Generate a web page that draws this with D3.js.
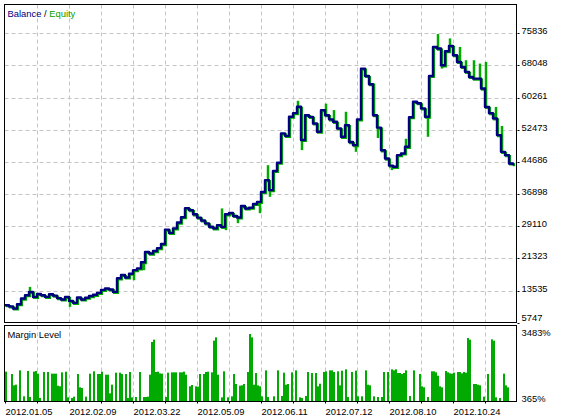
<!DOCTYPE html>
<html>
<head>
<meta charset="utf-8">
<script src="https://cdnjs.cloudflare.com/ajax/libs/d3/7.8.5/d3.min.js"></script>
<style>
body { margin: 0; background: #fff; }
svg text { font-family: "Liberation Sans", Arial, sans-serif; font-size: 9.4px; fill: #000; }
</style>
</head>
<body>
<div class="chart"></div>
<script>

// balance, one value every 2 deal slots
var balance = [
	9990, 9700, 9200, 10230, 11600, 12400, 13200, 12000, 12700, 12400, 12000, 12650, 12300, 11700, 11370, 12000,
	11030, 10550, 11850, 11370, 11800, 12200, 12500, 12970, 13700, 14030, 13800, 13210, 16500, 17300, 16700, 17600,
	18470, 18900, 20400, 22900, 22500, 23100, 23800, 24800, 28300, 27500, 28600, 30000, 31300, 33500, 33000, 32000,
	31200, 30500, 29800, 29000, 28600, 29370, 28960, 32000, 32300, 31600, 31230, 34000, 33400, 33600, 34500, 35000,
	37400, 40270, 37850, 42500, 44500, 51590, 51000, 55620, 56500, 58050, 50000, 56000, 55600, 54000, 52000, 57240,
	56000, 55000, 54400, 52800, 50770, 53600, 49500, 48750, 55000, 67290, 65500, 63500, 56000, 53000, 47500, 45500,
	43800, 43500, 46330, 46740, 48350, 55500, 59250, 58900, 57650, 55620, 65500, 72540, 72140, 68090, 71500, 72800,
	70520, 68900, 67690, 66500, 65270, 64860, 64860, 62450, 58000, 56500, 55220, 51180, 47130, 46330, 44320, 43900
];

// equity excursions away from balance: [deal slot, equity]
var equitySpikes = [
	[12, 14420], [32, 9570], [64, 16040], [69, 18470], [108, 33420], [110, 28160], [116, 29850],
	[127, 32270], [131, 43900], [132, 36230], [142, 53190], [146, 59490], [148, 47540], [160, 58800],
	[164, 57240], [170, 56830], [175, 47130], [184, 63700], [186, 50470], [193, 42700], [200, 50300],
	[211, 50770], [216, 75650], [218, 67290], [222, 74600], [227, 72540], [230, 69310], [234, 69310],
	[237, 68500], [240, 68900], [245, 58000], [248, 53400]
];

// margin level % per deal slot (0 = no open position)
var marginLevel = [
	1690, 0, 0, 1579, 1039, 1071, 0, 1753, 0, 516, 0, 1722, 484, 0, 1690, 1722,
	1595, 436, 0, 1674, 0, 1674, 0, 1595, 1595, 1595, 1023, 992, 1658, 0, 1690, 468,
	0, 436, 500, 0, 1579, 944, 912, 0, 500, 0, 1595, 0, 1706, 0, 1579, 1579,
	1690, 0, 1547, 1547, 659, 1071, 0, 1642, 0, 1642, 1579, 0, 1579, 436, 1674, 468,
	0, 484, 0, 1674, 0, 484, 484, 500, 1547, 3102, 3213, 1674, 1690, 1610, 1595, 0,
	484, 1642, 0, 1658, 1658, 1658, 0, 1658, 1658, 1690, 1547, 0, 992, 1055, 0, 992,
	976, 1579, 0, 1579, 1674, 1690, 0, 1658, 3165, 3324, 1547, 0, 468, 1706, 0, 468,
	0, 516, 1579, 1103, 0, 1023, 1039, 1103, 0, 1674, 3483, 3324, 1071, 1626, 1039, 992,
	516, 0, 1753, 484, 0, 0, 516, 0, 1753, 0, 532, 1642, 1071, 1103, 0, 1658,
	0, 1753, 0, 468, 436, 0, 532, 1674, 0, 1626, 0, 1626, 992, 1118, 0, 1674,
	1706, 0, 1753, 1753, 1674, 0, 1706, 1039, 1737, 0, 1801, 484, 0, 1674, 0, 1737,
	516, 0, 516, 0, 1753, 1071, 1039, 0, 516, 0, 484, 0, 484, 1674, 0, 1674,
	0, 1801, 1753, 1801, 1626, 1626, 1579, 1626, 1753, 0, 532, 0, 1753, 0, 0, 1579,
	992, 944, 0, 484, 0, 1706, 1706, 1658, 1499, 992, 944, 0, 1722, 1658, 1610, 1595,
	1642, 0, 1674, 1674, 1610, 1674, 1642, 3292, 3213, 0, 1103, 1103, 1071, 1039, 0, 500,
	0, 1579, 0, 3229, 3165, 468, 0, 436, 0, 1595, 1039, 944
];

var balanceTicks = [5747, 13535, 21323, 29110, 36898, 44686, 52473, 60261, 68048, 75836];
var marginTicks = [365, 3483];
var dateLabels = ["2012.01.05", "2012.02.09", "2012.03.22", "2012.05.09",
	"2012.06.11", "2012.07.12", "2012.08.10", "2012.10.24"];

var svgWidth = 562, svgHeight = 419;
var left = 4.5, right = 516.5;
var main = { top: 4.5, bottom: 322.5 };
var marg = { top: 325.5, bottom: 401.5 };

var svg = d3.select(".chart").append("svg")
	.attr("width", svgWidth)
	.attr("height", svgHeight);

// deal slots -> pixels, 16 slots per grid cell
var x = d3.scaleLinear().domain([0, 256]).range([5, 517]);
var y = d3.scaleLinear().domain([5747, 75836]).range([322.7, 33.3]);
var yM = d3.scaleLinear().domain([365, 3483]).range([399.5, 334]);

var gridSlots = d3.range(16, 256, 16);

function dashed(g, x1, y1, x2, y2) {
	g.append("line")
		.attr("x1", x1).attr("y1", y1).attr("x2", x2).attr("y2", y2)
		.attr("stroke", "#c4c4c4")
		.attr("stroke-width", 1)
		.attr("stroke-dasharray", "4,3");
}

// grid
var grid = svg.append("g");
gridSlots.forEach(function (s) {
	var gx = Math.round(x(s)) + 0.5;
	dashed(grid, gx, main.top, gx, main.bottom);
	dashed(grid, gx, marg.top, gx, marg.bottom);
});
balanceTicks.slice(1).forEach(function (t) {
	var gy = Math.round(y(t)) + 0.5;
	dashed(grid, left, gy, right, gy);
});

var balLine = d3.line()
	.x(function (d, i) { return x(i * 2); })
	.y(function (d) { return y(d); })
	.curve(d3.curveStepAfter);

// equity: follows balance slightly behind, with spikes
svg.append("path")
	.datum(balance)
	.attr("d", balLine)
	.attr("transform", "translate(1,1)")
	.attr("fill", "none")
	.attr("stroke", "#00aa00")
	.attr("stroke-width", 2.2);

svg.append("g").selectAll("line")
	.data(equitySpikes)
	.enter()
	.append("line")
	.attr("x1", function (d) { return x(d[0]) + 1; })
	.attr("x2", function (d) { return x(d[0]) + 1; })
	.attr("y1", function (d) { return y(balance[Math.floor(d[0] / 2)]); })
	.attr("y2", function (d) { return y(d[1]); })
	.attr("stroke", "#00aa00")
	.attr("stroke-width", 2.5);

// balance
svg.append("path")
	.datum(balance)
	.attr("d", balLine)
	.attr("fill", "none")
	.attr("stroke", "#000080")
	.attr("stroke-width", 2.4)
	.attr("stroke-linejoin", "round");

// margin bars
var bars = svg.append("g");
marginLevel.forEach(function (v, i) {
	if (!v) return;
	bars.append("rect")
		.attr("x", x(i))
		.attr("y", yM(v))
		.attr("width", 2)
		.attr("height", marg.bottom - 0.5 - yM(v))
		.attr("fill", "#00aa00");
});

// frames
[main, marg].forEach(function (p) {
	svg.append("rect")
		.attr("x", left).attr("y", p.top)
		.attr("width", right - left).attr("height", p.bottom - p.top)
		.attr("fill", "none")
		.attr("stroke", "#000")
		.attr("stroke-width", 1);
});

// right axis labels
balanceTicks.forEach(function (t) {
	var gy = Math.round(y(t)) + 0.5;
	svg.append("line")
		.attr("x1", right + 1).attr("x2", right + 3)
		.attr("y1", gy).attr("y2", gy)
		.attr("stroke", "#000");
	svg.append("text")
		.attr("x", 521.5)
		.attr("y", Math.min(gy + 0.7, 321))
		.text(t);
});
marginTicks.forEach(function (t, i) {
	svg.append("text")
		.attr("x", 521.5)
		.attr("y", i === 0 ? 401.5 : 335.5)
		.text(t + "%");
});

// date labels and bottom ticks
d3.range(0, 256, 16).forEach(function (s) {
	var gx = Math.round(x(s)) + 0.5;
	svg.append("line")
		.attr("x1", gx).attr("x2", gx)
		.attr("y1", marg.bottom).attr("y2", marg.bottom + 2)
		.attr("stroke", "#000");
});
dateLabels.forEach(function (lab, i) {
	svg.append("text")
		.attr("x", x(i * 32) + 0.5)
		.attr("y", 414.5)
		.text(lab);
});

// titles
var title = svg.append("text").attr("x", 7.5).attr("y", 16.5);
title.append("tspan").style("fill", "#000080").text("Balance");
title.append("tspan").text(" / ");
title.append("tspan").style("fill", "#00a000").text("Equity");

svg.append("text").attr("x", 7.5).attr("y", 337.5).text("Margin Level");

</script>
</body>
</html>
